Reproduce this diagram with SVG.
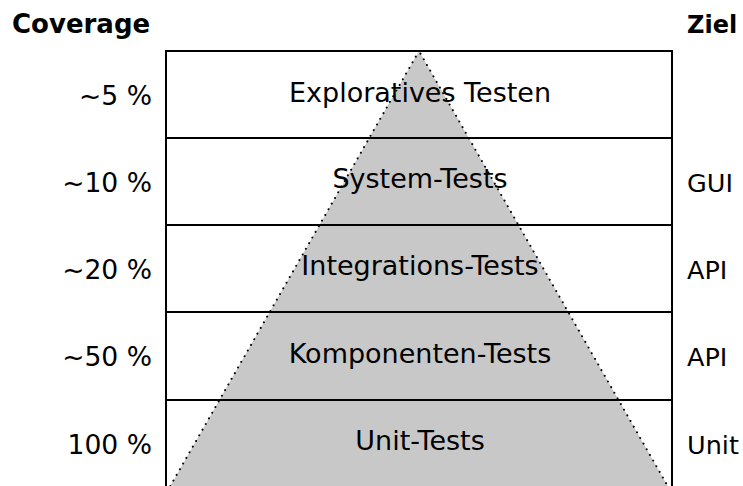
<svg xmlns="http://www.w3.org/2000/svg" width="743" height="486" viewBox="0 0 743 486">
  <style>
    text { font-family: "DejaVu Sans", Verdana, sans-serif; fill: #000; }
    .head { font-weight: bold; font-size: 26px; }
    .layer { text-anchor: middle; font-size: 27px; }
    .cov { text-anchor: end; font-size: 26.6px; }
    .goal { text-anchor: start; font-size: 25.5px; }
    .row { fill: none; stroke: #000; stroke-width: 2; }
    .pyramid { fill: #c8c8c8; stroke: #000; stroke-width: 2; stroke-dasharray: 0.01 6.5; stroke-linecap: round; }
  </style>
  <rect width="743" height="486" fill="#fff"/>

  <!-- column headers -->
  <text class="head" x="12" y="33">Coverage</text>
  <text class="head" x="687" y="33" style="font-size:24px">Ziel</text>

  <!-- pyramid behind the layer bands -->
  <g id="pyramid">
    <polygon class="pyramid" points="419,51 168,490 670,490"/>
  </g>

  <!-- layer bands -->
  <g id="layer-explorativ">
    <rect class="row" x="166" y="51" width="506" height="87"/>
    <text class="layer" x="420" y="101.5">Exploratives Testen</text>
    <text class="cov" x="152" y="104.5">~5 %</text>
  </g>
  <g id="layer-system">
    <rect class="row" x="166" y="138" width="506" height="87"/>
    <text class="layer" x="420" y="188">System-Tests</text>
    <text class="cov" x="152" y="191.5">~10 %</text>
    <text class="goal" x="687" y="191.5">GUI</text>
  </g>
  <g id="layer-integration">
    <rect class="row" x="166" y="225" width="506" height="87"/>
    <text class="layer" x="420" y="275">Integrations-Tests</text>
    <text class="cov" x="152" y="278.5">~20 %</text>
    <text class="goal" x="687" y="278.5">API</text>
  </g>
  <g id="layer-komponenten">
    <rect class="row" x="166" y="312" width="506" height="88"/>
    <text class="layer" x="420" y="362.5">Komponenten-Tests</text>
    <text class="cov" x="152" y="366">~50 %</text>
    <text class="goal" x="687" y="366">API</text>
  </g>
  <g id="layer-unit">
    <rect class="row" x="166" y="400" width="506" height="100"/>
    <text class="layer" x="420" y="450">Unit-Tests</text>
    <text class="cov" x="152" y="453.5">100 %</text>
    <text class="goal" x="687" y="453.5">Unit</text>
  </g>
</svg>
